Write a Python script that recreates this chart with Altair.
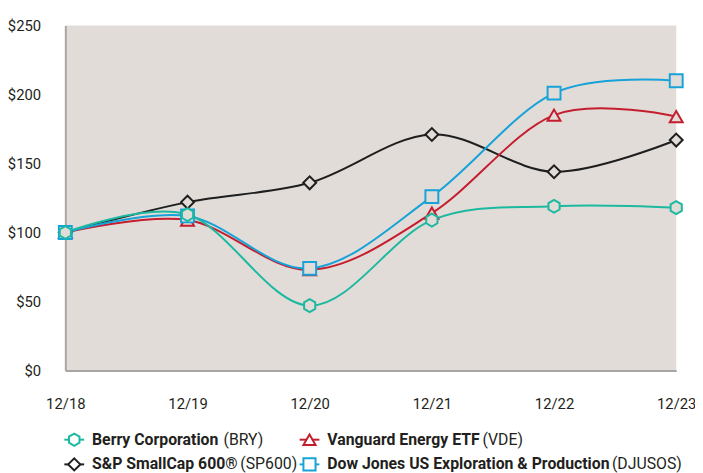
import altair as alt
import pandas as pd

dates = ["12/18", "12/19", "12/20", "12/21", "12/22", "12/23"]
series_names = ["S&P SmallCap 600® (SP600)", "Vanguard Energy ETF (VDE)",
                "Dow Jones US Exploration & Production (DJUSOS)", "Berry Corporation (BRY)"]
sp600 = [100, 122, 136, 171, 144, 167]
vde = [100, 109, 73, 114, 185, 184]
djusos = [100, 112, 74, 126, 201, 210]
bry = [100, 113, 47, 109, 119, 118]

legend_bold = ["Berry Corporation", "S&P SmallCap 600®", "Vanguard Energy ETF",
               "Dow Jones US Exploration & Production"]
legend_reg = ["(BRY)", "(SP600)", "(VDE)", "(DJUSOS)"]

colors = ["#1e1e1e", "#c41e2e", "#17a2d8", "#1cb9a0"]
HEX = "M0,-1L0.866,-0.5L0.866,0.5L0,1L-0.866,0.5L-0.866,-0.5Z"
shapes = ["diamond", "triangle-up", "square", HEX]
BG = "#e2dcd9"
FONT = "Roboto"

rows = []
for name, vals in zip(series_names, [sp600, vde, djusos, bry]):
    for d, v in zip(dates, vals):
        rows.append({"date": d, "value": v, "series": name})
df = pd.DataFrame(rows)

W, H = 618, 349

x = alt.X("date:O", sort=dates, scale=alt.Scale(type="point", padding=0),
          axis=alt.Axis(title=None, labelAngle=0, ticks=False, domain=True,
                        domainColor="#a9a5a3", domainWidth=2, labelPadding=26,
                        labelFont=FONT, labelFontSize=15, labelColor="#231f20"))
y = alt.Y("value:Q", scale=alt.Scale(domain=[0, 250], nice=False),
          axis=alt.Axis(title=None, values=[0, 50, 100, 150, 200, 250], grid=False,
                        ticks=False, domainColor="#a9a5a3", domainWidth=2,
                        labelPadding=25, labelExpr="'$' + datum.value",
                        labelFont=FONT, labelFontSize=15, labelColor="#231f20"))
color = alt.Color("series:N", scale=alt.Scale(domain=series_names, range=colors), legend=None)
shape = alt.Shape("series:N", scale=alt.Scale(domain=series_names, range=shapes), legend=None)

lines = alt.Chart(df).mark_line(interpolate="cardinal", strokeWidth=2).encode(
    x=x, y=y, color=color, detail="series:N",
    order=alt.Order("date:O"))
points = alt.Chart(df).mark_point(filled=False, fill=BG, fillOpacity=1, size=170,
                                  strokeWidth=2, opacity=1).encode(
    x=x, y=y, color=color, shape=shape)

# custom legend
leg_pos = [(9, 419), (9, 444), (247, 419), (247, 444)]
leg_colors = [colors[3], colors[0], colors[1], colors[2]]
leg_shapes = [HEX, "diamond", "triangle-up", "square"]
reg_off = [160, 177, 422, 553]
leg_layers = []
for (lx, ly), c, s, b, r, ro in zip(leg_pos, leg_colors, leg_shapes, legend_bold, legend_reg, reg_off):
    base = alt.Chart(pd.DataFrame({"k": [0]}))
    leg_layers.append(base.mark_rule(color=c, strokeWidth=2).encode(
        x=alt.value(lx - 10), x2=alt.value(lx + 10), y=alt.value(ly)))
    leg_layers.append(base.mark_point(shape=s, color=c, fill="white", fillOpacity=1,
                                      filled=False, size=150, strokeWidth=2, opacity=1).encode(
        x=alt.value(lx), y=alt.value(ly)))
    leg_layers.append(base.mark_text(align="left", baseline="middle", font=FONT, fontSize=16,
                                     fontWeight="bold", color="#231f20").encode(
        x=alt.value(lx + 18), y=alt.value(ly), text=alt.value(b)))
    leg_layers.append(base.mark_text(align="left", baseline="middle", font=FONT, fontSize=16,
                                     color="#231f20").encode(
        x=alt.value(ro), y=alt.value(ly), text=alt.value(r)))

chart = alt.layer(lines, points, *leg_layers).properties(
    width=W, height=H,
    autosize=alt.AutoSizeParams(type="none"),
    padding={"left": 58, "top": 15, "right": 19, "bottom": 101},
    background="white",
).configure_view(fill=BG, stroke=None).configure_axis(domainCap="butt")

chart.save("out.html", embed_options={"renderer": "svg", "actions": False})
